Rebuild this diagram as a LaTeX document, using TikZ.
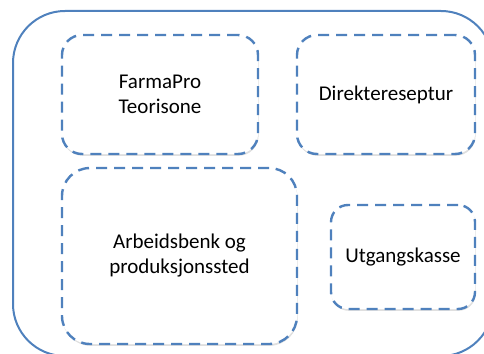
\documentclass[tikz,border=0pt]{standalone}
\usepackage{fontspec}
\setmainfont{Carlito}
\usepackage{tikz}
\usetikzlibrary{shadows,positioning}
\definecolor{frameblue}{RGB}{79,129,189}

\begin{document}
\begin{tikzpicture}[x=1pt,y=-1pt,
    sone/.style={draw=frameblue, line width=2.4pt, dash pattern=on 11pt off 7pt,
      fill=white, align=center, inner sep=0pt,
      drop shadow={opacity=0.25, shadow xshift=0.6pt, shadow yshift=-1.8pt}}]
      \fontsize{21}{25}\selectfont
      \useasboundingbox (0,0) rectangle (484,353);
      \clip (0,0) rectangle (484,353);
      \draw[frameblue, line width=2pt, rounded corners=52pt] (13,11) rectangle (493,356);
      \node[sone, rounded corners=20pt, minimum width=196pt, minimum height=119pt] (farma) at (160,94.5) {FarmaPro\\Teorisone};
      \node[sone, rounded corners=20pt, minimum width=178pt, minimum height=119pt] (direkte) at (386,94.5) {Direktereseptur};
      \node[sone, rounded corners=28pt, minimum width=235pt, minimum height=176pt] (arbeid) at (179.5,256) {Arbeidsbenk og\\produksjonssted};
      \node[sone, rounded corners=17pt, minimum width=144pt, minimum height=104pt] (utgang) at (403,257) {Utgangskasse};
\end{tikzpicture}
\end{document}
